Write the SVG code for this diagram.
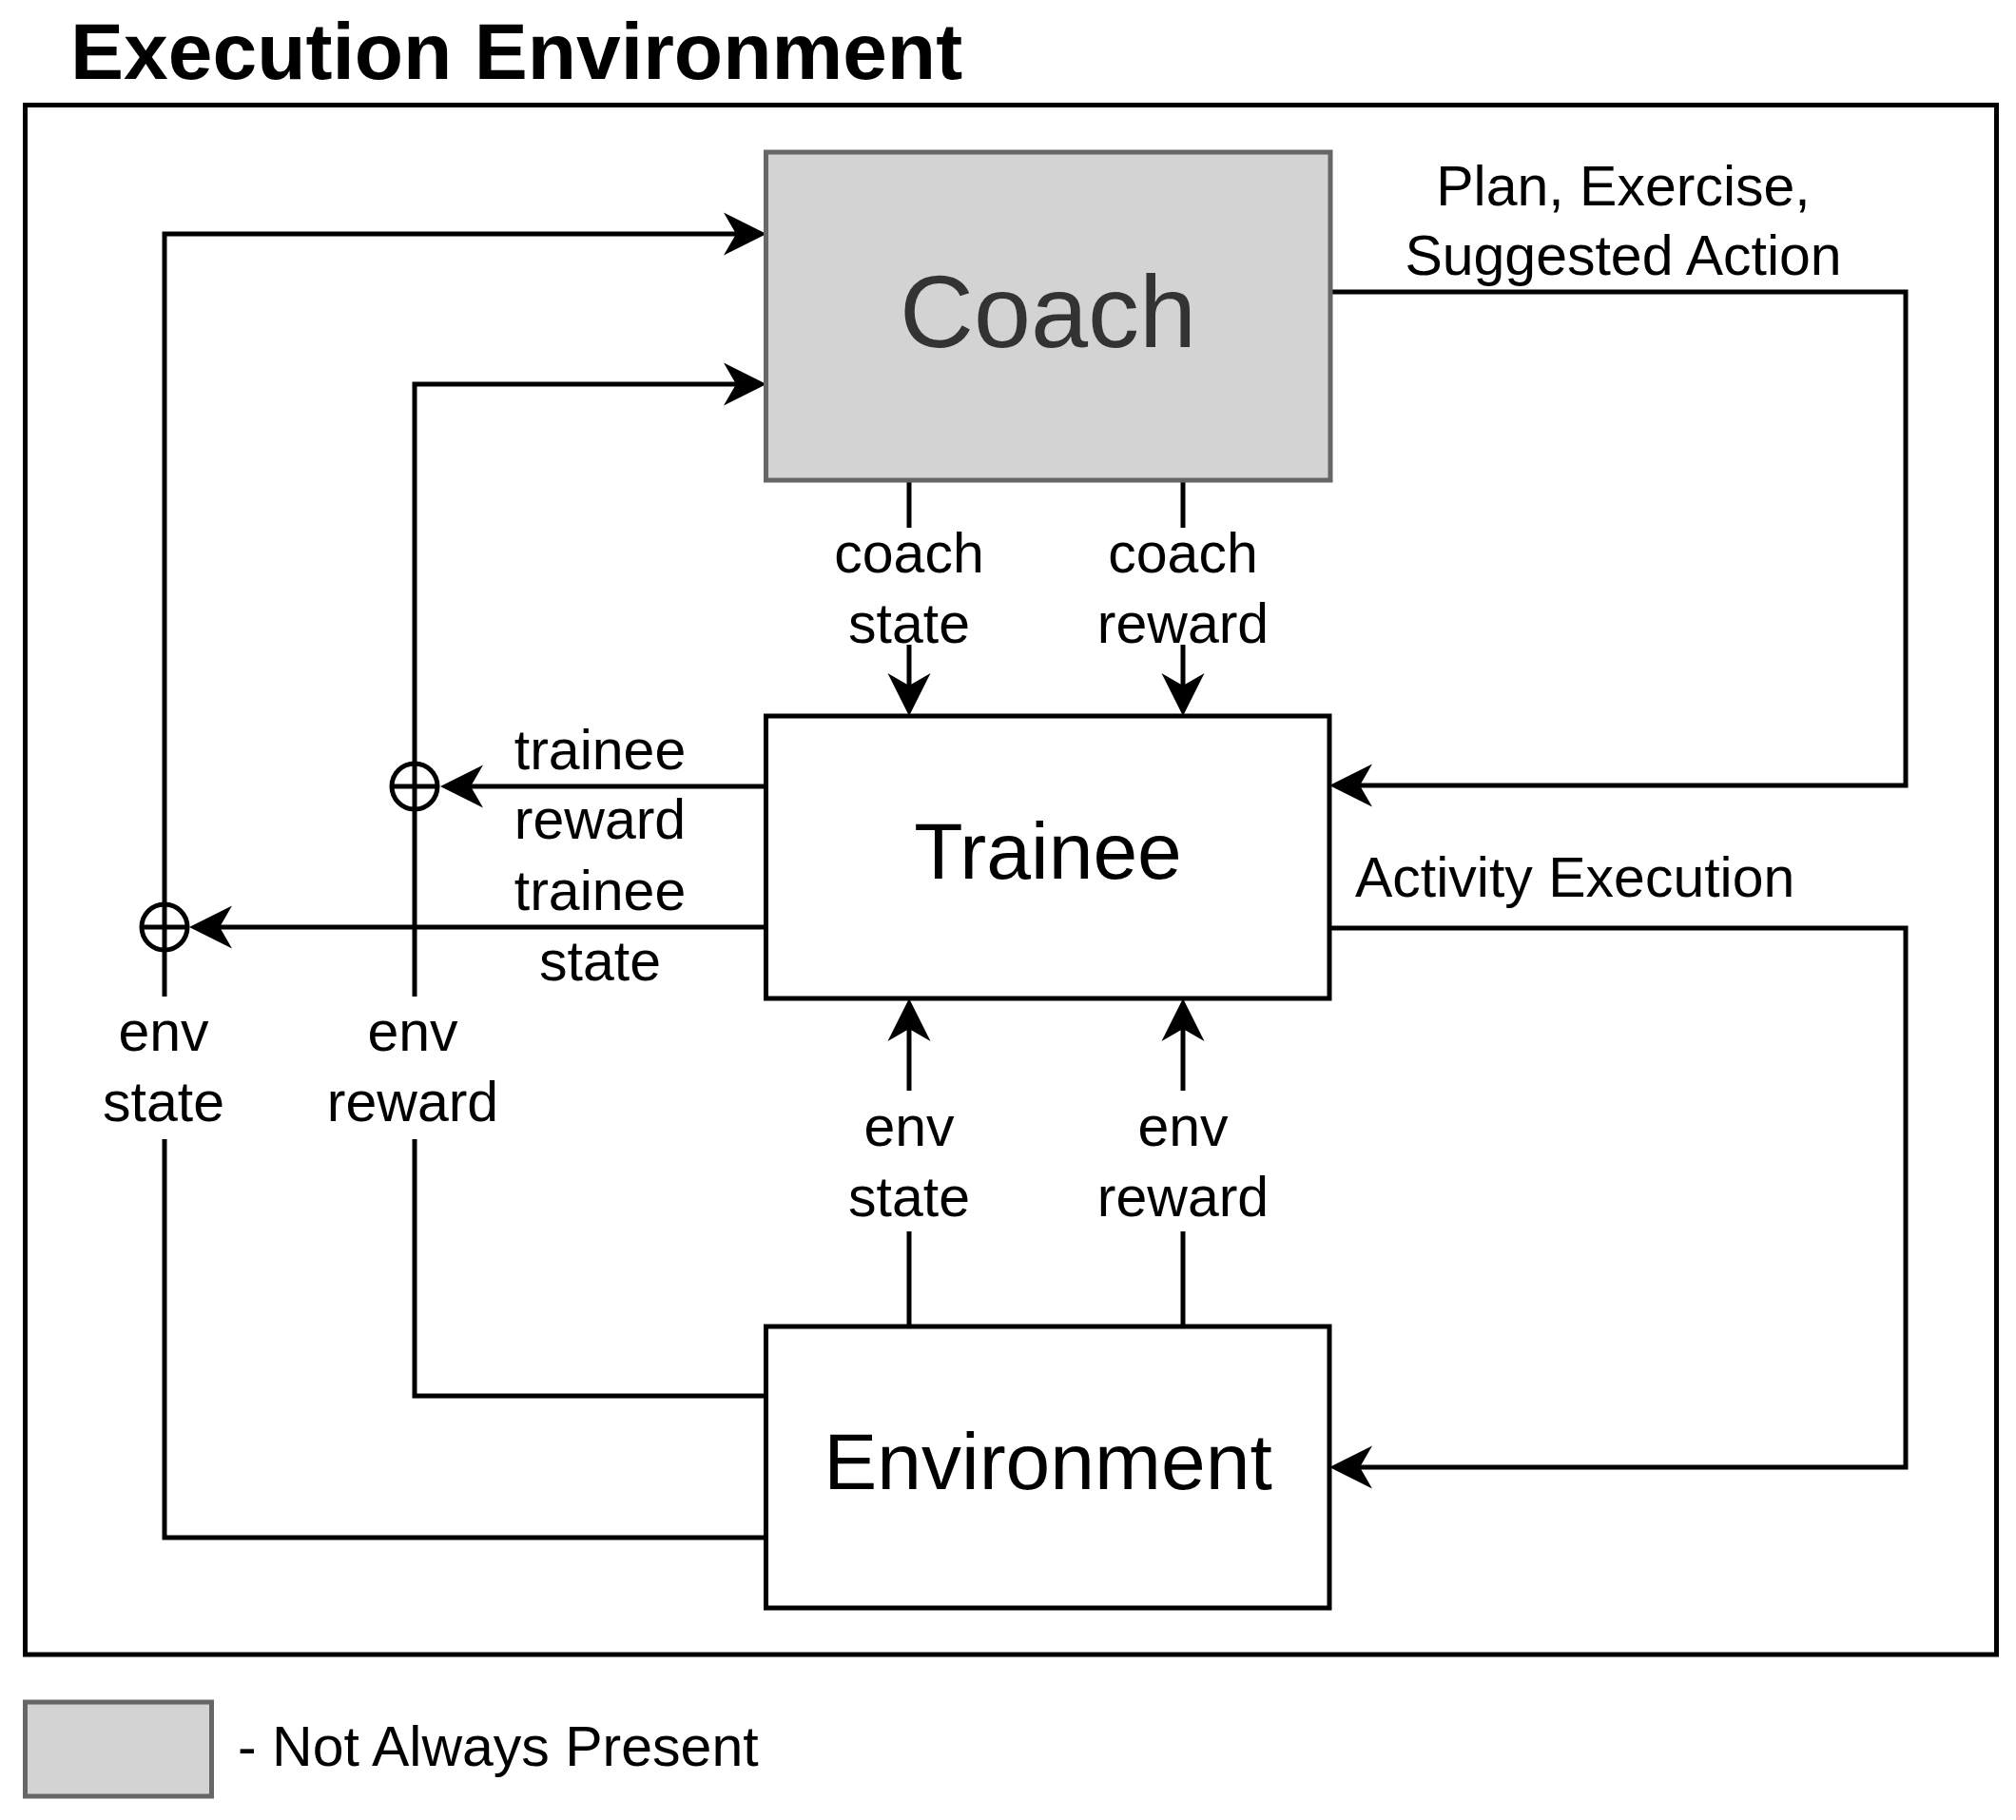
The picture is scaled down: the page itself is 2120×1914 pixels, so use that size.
<svg xmlns="http://www.w3.org/2000/svg" width="2120" height="1914" viewBox="0 0 2120 1914">
<style>
.ln{fill:none;stroke:#000;stroke-width:5;marker-end:none}
.ar{marker-end:url(#ah)}
.box{fill:#fff;stroke:#000;stroke-width:5}
.gbox{fill:#d3d3d3;stroke:#666;stroke-width:5}
text{font-family:"Liberation Sans",Arial,sans-serif;fill:#000}
.lbl{font-size:59px;text-anchor:middle}
.big{font-size:84px;text-anchor:middle}
</style>
<defs>
<marker id="ah" markerUnits="userSpaceOnUse" markerWidth="46" markerHeight="46" refX="25" refY="22.5" orient="auto" overflow="visible">
<path d="M0,0 L45,22.5 L0,45 L13,22.5 Z" fill="#000"/>
</marker>
</defs>
<rect width="2120" height="1914" fill="#fff"/>
<text x="74" y="83" font-size="84" font-weight="bold">Execution Environment</text>
<rect x="26.5" y="110.5" width="2073" height="1629.5" fill="none" stroke="#000" stroke-width="5"/>

<g id="connectors">
<path class="ln ar" d="M806,1617 H173 V1198 M173,1048 V246 H786"/>
<path class="ln ar" d="M806,1468 H436 V1198 M436,1048 V404 H786"/>
<path class="ln ar" d="M806,827 H483"/>
<path class="ln ar" d="M806,975 H219"/>
<circle cx="436" cy="827" r="24" fill="none" stroke="#000" stroke-width="5"/>
<path class="ln" d="M412,827 H460"/>
<circle cx="173" cy="975" r="24" fill="none" stroke="#000" stroke-width="5"/>
<path class="ln" d="M149,975 H197"/>
<path class="ln ar" d="M956,506 V555 M956,678 V733"/>
<path class="ln ar" d="M1244,506 V555 M1244,678 V733"/>
<path class="ln ar" d="M956,1395 V1295 M956,1147 V1070"/>
<path class="ln ar" d="M1244,1395 V1295 M1244,1147 V1070"/>
<path class="ln ar" d="M1399,307 H2004 V826 H1418"/>
<path class="ln ar" d="M1398,976 H2004 V1543 H1418"/>
<text class="lbl" x="956" y="602">coach</text>
<text class="lbl" x="956" y="676">state</text>
<text class="lbl" x="1244" y="602">coach</text>
<text class="lbl" x="1244" y="676">reward</text>
<text class="lbl" x="631" y="809">trainee</text>
<text class="lbl" x="631" y="882">reward</text>
<text class="lbl" x="631" y="957">trainee</text>
<text class="lbl" x="631" y="1031">state</text>
<text class="lbl" x="172" y="1105">env</text>
<text class="lbl" x="172" y="1179">state</text>
<text class="lbl" x="434" y="1105">env</text>
<text class="lbl" x="434" y="1179">reward</text>
<text class="lbl" x="956" y="1205">env</text>
<text class="lbl" x="956" y="1279">state</text>
<text class="lbl" x="1244" y="1205">env</text>
<text class="lbl" x="1244" y="1279">reward</text>
<text class="lbl" x="1707" y="216">Plan, Exercise,</text>
<text class="lbl" x="1707" y="289">Suggested Action</text>
<text x="1425" y="943" font-size="59">Activity Execution</text>
</g>

<g id="coach">
<rect class="gbox" x="805.5" y="160" width="593.5" height="345"/>
<text class="big" x="1102" y="365" style="fill:#333;font-size:108px">Coach</text>
</g>
<g id="trainee">
<rect class="box" x="805.5" y="753" width="592.5" height="297"/>
<text class="big" x="1102" y="924">Trainee</text>
</g>
<g id="environment">
<rect class="box" x="805.5" y="1395" width="592.5" height="296"/>
<text class="big" x="1102" y="1566">Environment</text>
</g>
<g id="legend">
<rect class="gbox" x="26.5" y="1790" width="196" height="99"/>
<text x="250" y="1857" font-size="59">- Not Always Present</text>
</g>
</svg>
